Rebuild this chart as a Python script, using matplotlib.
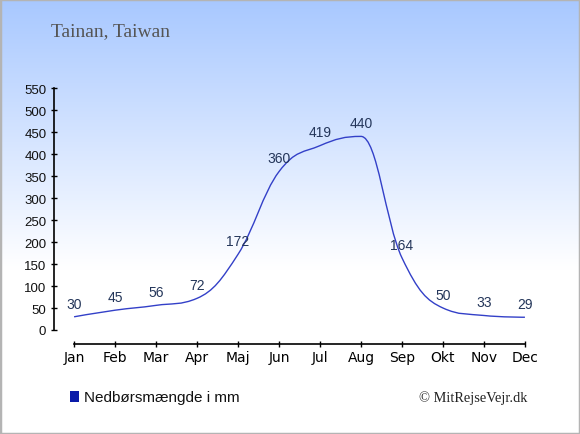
import numpy as np
import matplotlib
matplotlib.use("Agg")
import matplotlib.pyplot as plt
from matplotlib.path import Path
from matplotlib.patches import PathPatch

months = ["Jan", "Feb", "Mar", "Apr", "Maj", "Jun", "Jul", "Aug", "Sep", "Okt", "Nov", "Dec"]
rain = [30, 45, 56, 72, 172, 360, 419, 440, 164, 50, 33, 29]
yticks = list(range(0, 551, 50))
title = "Tainan, Taiwan"
legend_label = "Nedbørsmængde i mm"
credit = "© MitRejseVejr.dk"

W, H = 580, 435
fig = plt.figure(figsize=(W / 100, H / 100), dpi=100)

# background gradient
bg = fig.add_axes([0, 0, 1, 1], zorder=-10)
bg.set_axis_off()
n = 256
t = np.linspace(0, 1, n)[:, None]
top = np.array([0xa8, 0xc8, 0xff]) / 255.0
white = np.array([1.0, 1.0, 1.0])
frac = np.clip(t / 0.62, 0, 1)
grad = top[None, None, :] * (1 - frac[..., None]) + white[None, None, :] * frac[..., None]
grad = np.repeat(grad, 2, axis=1)
bg.imshow(grad, aspect="auto", extent=[0, 1, 0, 1], origin="upper")
bg.set_xlim(0, 1)
bg.set_ylim(0, 1)
bg.add_patch(plt.Rectangle((0, 0), 1, 1, transform=bg.transAxes, fill=False,
                           edgecolor="#b4b4b4", linewidth=2.5))

ax = fig.add_axes([54 / W, 1 - 331 / H, 491 / W, (331 - 89) / H])
ax.patch.set_alpha(0)
x = np.arange(len(months), dtype=float)
y = np.array(rain, dtype=float)

# Highcharts-style spline control points
smoothing = 1.5
denom = smoothing + 1
nP = len(x)
lcx = x.copy(); lcy = y.copy(); rcx = x.copy(); rcy = y.copy()
for i in range(1, nP - 1):
    px, py = x[i], y[i]
    lx, ly = x[i - 1], y[i - 1]
    nx, ny = x[i + 1], y[i + 1]
    lX = (smoothing * px + lx) / denom
    lY = (smoothing * py + ly) / denom
    rX = (smoothing * px + nx) / denom
    rY = (smoothing * py + ny) / denom
    corr = ((rY - lY) * (rX - px)) / (rX - lX) + py - rY
    lY += corr
    rY += corr
    if lY > ly and lY > py:
        lY = max(ly, py); rY = 2 * py - lY
    elif lY < ly and lY < py:
        lY = min(ly, py); rY = 2 * py - lY
    if rY > ny and rY > py:
        rY = max(ny, py); lY = 2 * py - rY
    elif rY < ny and rY < py:
        rY = min(ny, py); lY = 2 * py - rY
    lcx[i], lcy[i], rcx[i], rcy[i] = lX, lY, rX, rY

verts = [(x[0], y[0])]
codes = [Path.MOVETO]
for i in range(1, nP):
    verts += [(rcx[i - 1], rcy[i - 1]), (lcx[i], lcy[i]), (x[i], y[i])]
    codes += [Path.CURVE4] * 3
ax.add_patch(PathPatch(Path(verts, codes), facecolor="none", edgecolor="#3340c8",
                       linewidth=1.0, clip_on=False))

for xi, yi in zip(x, rain):
    ax.annotate(str(yi), (xi, yi), xytext=(0, 9.5), textcoords="offset points",
                ha="center", va="center", fontsize=10, color="#24365a",
                family="Liberation Sans", annotation_clip=False)

ax.set_xlim(-0.49, 11.49)
ax.set_ylim(0, 550)
ax.set_xticks(x)
ax.set_xticklabels(months)
ax.set_yticks(yticks)
ax.set_yticklabels([str(v) for v in yticks])
for lab in ax.get_xticklabels() + ax.get_yticklabels():
    lab.set_family("Liberation Sans")
    lab.set_fontsize(9.5)
    lab.set_color("#111111")

ax.spines["top"].set_visible(False)
ax.spines["right"].set_visible(False)
ax.spines["bottom"].set_position(("outward", 10))
ax.spines["bottom"].set_bounds(0, 11)
ax.spines["left"].set_bounds(0, 550)
for sp in ("left", "bottom"):
    ax.spines[sp].set_linewidth(1.2)
    ax.spines[sp].set_color("black")
ax.tick_params(axis="x", direction="inout", length=4, width=1, pad=2.5)
ax.tick_params(axis="y", direction="inout", length=4, width=1, pad=3.5)

fig.text(51 / W, 1 - 32 / H, title, fontsize=14, family="Liberation Serif",
         color="#555555", va="center", ha="left")

fig.patches.append(plt.Rectangle((70 / W, 1 - 403 / H), 9 / W, 11 / H,
                                 transform=fig.transFigure, facecolor="#0a1aa8",
                                 edgecolor="none"))
fig.text(84 / W, 1 - 398 / H, legend_label, fontsize=11, family="Liberation Sans",
         color="#111111", va="center", ha="left")
fig.text(527 / W, 1 - 398 / H, credit, fontsize=10.4, family="Liberation Serif",
         color="#222222", va="center", ha="right")

fig.savefig("out.png", dpi=100)
